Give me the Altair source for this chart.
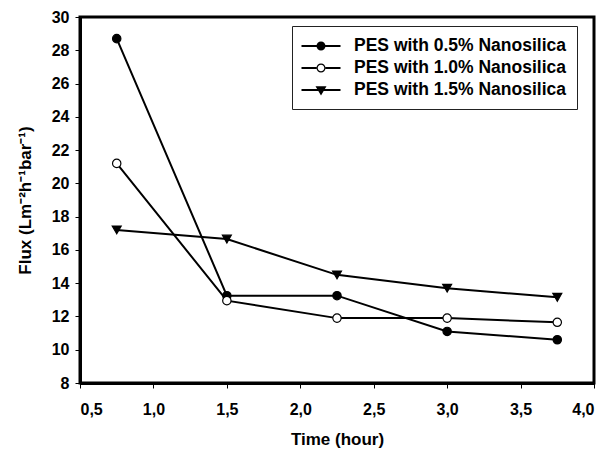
import altair as alt
import pandas as pd

time_h = [0.75, 1.5, 2.25, 3.0, 3.75]
series_names = ["PES with 0.5% Nanosilica", "PES with 1.0% Nanosilica", "PES with 1.5% Nanosilica"]
flux_05 = [28.7, 13.25, 13.25, 11.1, 10.6]
flux_10 = [21.2, 12.95, 11.9, 11.9, 11.65]
flux_15 = [17.2, 16.65, 14.5, 13.7, 13.15]
x_ticks = [0.5, 1.0, 1.5, 2.0, 2.5, 3.0, 3.5, 4.0]
y_ticks = [8, 10, 12, 14, 16, 18, 20, 22, 24, 26, 28, 30]

marker_shapes = ["circle", "circle", "triangle-down"]
marker_fills = ["black", "white", "black"]
# legend glyphs: line + marker, drawn as filled outlines (units of 10 px)
legend_shapes = [
    "M-1.95,-0.1H1.95V0.1H-1.95ZM0.45,0A0.45,0.45 0 1,1 -0.45,0A0.45,0.45 0 1,1 0.45,0Z",
    "M-1.95,-0.1H-0.45V0.1H-1.95ZM0.45,-0.1H1.95V0.1H0.45Z"
    "M0.45,0A0.45,0.45 0 1,1 -0.45,0A0.45,0.45 0 1,1 0.45,0Z"
    "M0.33,0A0.33,0.33 0 1,0 -0.33,0A0.33,0.33 0 1,0 0.33,0Z",
    "M-1.95,-0.1H1.95V0.1H-1.95ZM-0.55,-0.38L0.55,-0.38L0,0.55Z",
]

rows = []
for name, vals in zip(series_names, [flux_05, flux_10, flux_15]):
    for t, v in zip(time_h, vals):
        rows.append({"series": name, "time": t, "flux": v})
df = pd.DataFrame(rows)

FONT = "Liberation Sans"

x = alt.X("time:Q", scale=alt.Scale(domain=[0.5, 4.0], nice=False),
          axis=alt.Axis(values=x_ticks, title="Time (hour)",
                        labelExpr="replace(format(datum.value, '.1f'), '.', ',')"))
y = alt.Y("flux:Q", scale=alt.Scale(domain=[8, 30], nice=False),
          axis=alt.Axis(values=y_ticks, title="Flux (Lm⁻²h⁻¹bar⁻¹)"))

base = alt.Chart(df)

lines = base.mark_line(color="black", strokeWidth=2).encode(x=x, y=y, detail="series:N")

point_layers = []
for name, shp, fil in zip(series_names, marker_shapes, marker_fills):
    point_layers.append(
        base.transform_filter(alt.datum.series == name).mark_point(
            shape=shp, fill=fil, filled=True, stroke="black", strokeWidth=1.2, opacity=1,
            size=70 if shp == "circle" else 80
        ).encode(x=x, y=y)
    )

leg = alt.Legend(title=None, orient="none", legendX=212, legendY=9,
                 strokeColor="#222222", fillColor="white", padding=10,
                 labelFont=FONT, labelFontSize=17.5, labelFontWeight="bold", labelColor="black",
                 symbolSize=400, symbolStrokeWidth=0, symbolStrokeColor="black",
                 symbolFillColor="black", symbolOpacity=1, symbolOffset=9,
                 rowPadding=3, labelOffset=23, labelLimit=400)

legend_layer = base.mark_point(filled=True, color="black", opacity=1).encode(
    x=x, y=y,
    shape=alt.Shape("series:N", scale=alt.Scale(domain=series_names, range=legend_shapes), legend=leg),
).transform_filter("false")

chart = alt.layer(lines, *point_layers, legend_layer).properties(
    width=514, height=366,
    padding={"left": 8, "top": 1, "right": 5, "bottom": 5},
).configure_view(
    stroke="black", strokeWidth=3
).configure_axis(
    labelFont=FONT, titleFont=FONT, labelFontSize=16, titleFontSize=17,
    labelFontWeight="bold", titleFontWeight="bold", labelColor="black", titleColor="black",
    domainColor="black", domainWidth=3, tickColor="black", tickSize=5, tickWidth=1,
    grid=False, labelPadding=6,
).configure_axisX(titlePadding=14, labelPadding=13).configure_axisY(titlePadding=17)

chart.save("out.html", embed_options={"renderer": "svg", "actions": False})
